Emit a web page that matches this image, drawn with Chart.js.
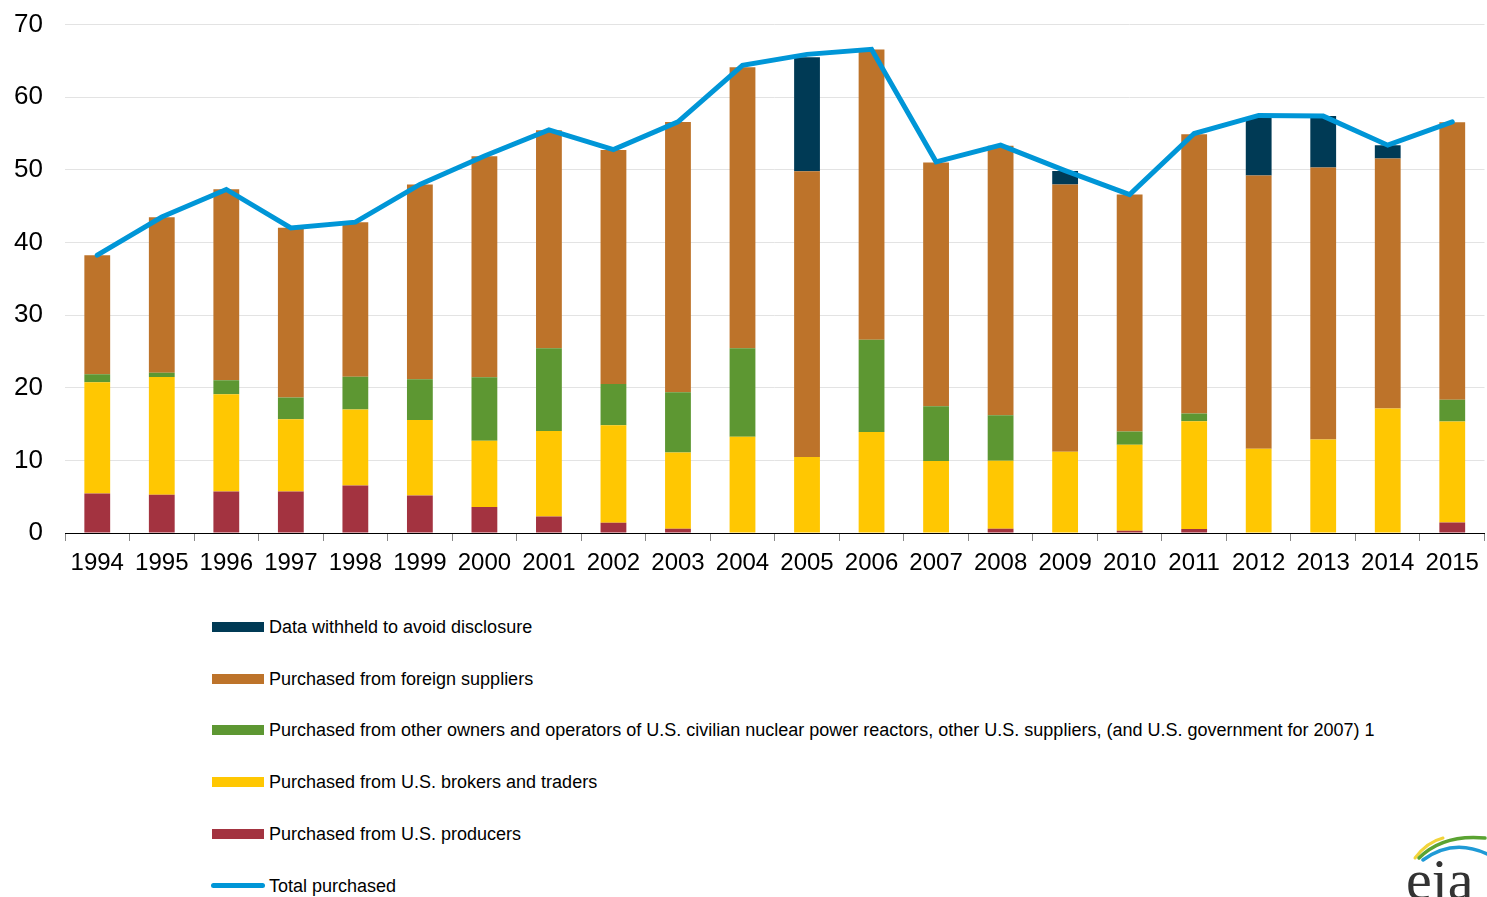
<!DOCTYPE html>
<html>
<head>
<meta charset="utf-8">
<script src="https://cdn.jsdelivr.net/npm/chart.js@4/dist/chart.umd.min.js"></script>
<style>
  html, body { margin: 0; padding: 0; background: #fff; }
  body { width: 1487px; height: 897px; position: relative; overflow: hidden; font-family: "Liberation Sans", Arial, sans-serif; }
  #wrap { position: absolute; left: 0; top: -13px; width: 1487px; height: 596px; }
  #legend { position: absolute; left: 212px; top: 0; }
  .item { position: absolute; left: 0; height: 24px; white-space: nowrap; }
  .sw { position: absolute; left: 0; top: 7px; width: 52px; height: 10px; }
  .sw.line { top: 9px; height: 5px; border-radius: 3px; left: -1px; width: 54px; }
  .lt { position: absolute; left: 57px; top: 0; font-size: 18px; line-height: 24px; color: #000; }
  #logo { position: absolute; left: 1395px; top: 826px; }
</style>
</head>
<body>
<div id="wrap"><canvas id="c" width="1487" height="596"></canvas></div>
<div id="legend"></div>
<svg id="logo" width="92" height="71" viewBox="0 0 92 71">
  <path d="M20 32 Q 32 16 48 12" stroke="#f2d43a" stroke-width="3" fill="none" stroke-linecap="round"/>
  <path d="M24 32 Q 48 8 90 12" stroke="#5aa332" stroke-width="3.5" fill="none" stroke-linecap="round"/>
  <path d="M28 34 Q 58 12 92 28" stroke="#1f9ad6" stroke-width="3.5" fill="none" stroke-linecap="round"/>
  <text x="11" y="73" font-family="Liberation Serif, serif" font-size="58" fill="#333">eia</text>
</svg>
<script>
const years = ['1994','1995','1996','1997','1998','1999','2000','2001','2002','2003','2004','2005','2006','2007','2008','2009','2010','2011','2012','2013','2014','2015'];
const producers = [5.45,5.27,5.72,5.72,6.55,5.17,3.57,2.28,1.42,0.6,0,0,0,0,0.6,0,0.3,0.55,0,0,0,1.46];
const brokers = [15.3,16.2,13.4,9.95,10.45,10.4,9.12,11.78,13.43,10.48,13.24,10.45,13.92,9.9,9.34,11.18,11.84,14.85,11.59,12.87,17.13,13.88];
const otherOwners = [1.1,0.6,1.9,3.0,4.5,5.6,8.75,11.37,5.67,8.3,12.19,0,12.69,7.56,6.28,0,1.83,1.04,0,0,0,3.02];
const foreign = [16.4,21.4,26.3,23.35,21.3,26.83,30.42,30.01,32.21,37.2,38.71,39.35,39.96,33.54,37.11,36.79,32.63,38.45,37.62,37.44,34.42,38.18];
const withheld = [0,0,0,0,0,0,0,0,0,0,0,15.7,0,0,0,1.87,0,0,8.06,7.09,1.85,0];
const totalPurchased = [38.25,43.5,47.3,42.0,42.8,48.0,51.9,55.5,52.8,56.6,64.4,65.9,66.6,51.1,53.4,49.9,46.6,55.0,57.5,57.4,53.4,56.6];
const yTicks = [0,10,20,30,40,50,60,70];

const labels = {
  withheld: 'Data withheld to avoid disclosure',
  foreign: 'Purchased from foreign suppliers',
  other: 'Purchased from other owners and operators of U.S. civilian nuclear power reactors, other U.S. suppliers, (and U.S. government for 2007) 1',
  brokers: 'Purchased from U.S. brokers and traders',
  producers: 'Purchased from U.S. producers',
  total: 'Total purchased'
};
const colors = {
  withheld: '#003A55', foreign: '#BD732A', other: '#5D9732', brokers: '#FFC702', producers: '#A33340', total: '#0096D7'
};

function bar(key, data) {
  return { type: 'bar', label: labels[key], data: data, backgroundColor: colors[key], borderWidth: 0,
           stack: 's', order: 2, barPercentage: 0.4, categoryPercentage: 1.0 };
}

const chart = new Chart(document.getElementById('c'), {
  data: {
    labels: years,
    datasets: [
      bar('producers', producers),
      bar('brokers', brokers),
      bar('other', otherOwners),
      bar('foreign', foreign),
      bar('withheld', withheld),
      { type: 'line', label: labels.total, data: totalPurchased, borderColor: colors.total, backgroundColor: colors.total,
        borderWidth: 5, pointRadius: 0, tension: 0, order: 0, borderCapStyle: 'round', borderJoinStyle: 'miter' }
    ]
  },
  options: {
    responsive: false,
    devicePixelRatio: 1,
    animation: false,
    layout: { padding: { top: 12, right: 2, left: 0, bottom: 0 } },
    plugins: { legend: { display: false }, tooltip: { enabled: false } },
    scales: {
      x: {
        stacked: true,
        grid: { offset: true, drawOnChartArea: false, drawTicks: true, tickLength: 8, color: '#888' },
        border: { display: true, color: '#000', width: 1 },
        ticks: { color: '#000', font: { family: 'Liberation Sans, Arial', size: 24 }, padding: 8, maxRotation: 0, autoSkip: false },
        afterFit: s => { s.height = 50; }
      },
      y: {
        stacked: true,
        min: 0, max: 70,
        afterBuildTicks: s => { s.ticks = yTicks.map(v => ({ value: v })); },
        grid: { color: '#e3e3e3', drawTicks: false, lineWidth: 1 },
        border: { display: false },
        ticks: { color: '#000', font: { family: 'Liberation Sans, Arial', size: 26 }, padding: 22 },
        afterFit: s => { s.width = 65; }
      }
    }
  }
});

// HTML legend built from chart datasets
const legendOrder = [4, 3, 2, 1, 0, 5];
const legendTops = [615, 667, 718, 770, 822, 874];
const lg = document.getElementById('legend');
legendOrder.forEach((idx, i) => {
  const ds = chart.data.datasets[idx];
  const it = document.createElement('div');
  it.className = 'item';
  it.style.top = legendTops[i] + 'px';
  const sw = document.createElement('div');
  sw.className = 'sw' + (ds.type === 'line' ? ' line' : '');
  sw.style.background = ds.type === 'line' ? ds.borderColor : ds.backgroundColor;
  const t = document.createElement('div');
  t.className = 'lt';
  t.textContent = ds.label;
  it.appendChild(sw); it.appendChild(t);
  lg.appendChild(it);
});
</script>
</body>
</html>
